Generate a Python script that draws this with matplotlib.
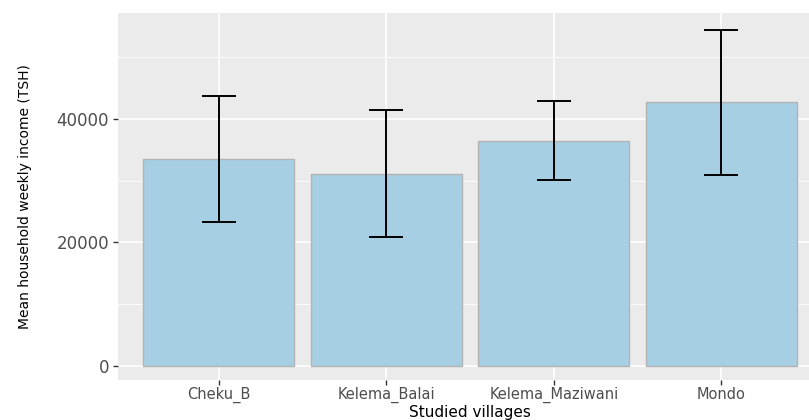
import numpy as np
import matplotlib.pyplot as plt

# DATA
villages = ["Cheku_B", "Kelema_Balai", "Kelema_Maziwani", "Mondo"]
mean_income = [33500, 31150, 36500, 42700]
err_income = [10150, 10300, 6450, 11770]

# STYLE
bg = "#EBEBEB"
bar_fill = "#A6CFE3"
bar_edge = "#B3B3B3"
txt_grey = "#4D4D4D"

fig = plt.figure(figsize=(8.09, 4.2), dpi=100)
ax = fig.add_axes([118/809, 40/420, 704/809, 367/420])
ax.set_facecolor(bg)

x = np.arange(1, len(villages) + 1)

# grid, ggplot style
for v in [10000, 30000, 50000]:
    ax.axhline(v, color="white", lw=0.6, zorder=0)
for v in [0, 20000, 40000]:
    ax.axhline(v, color="white", lw=1.2, zorder=0)
for xi in x:
    ax.axvline(xi, color="white", lw=1.2, zorder=0)

ax.bar(x, mean_income, width=0.9, color=bar_fill, edgecolor=bar_edge,
       linewidth=1.0, zorder=2)
ax.errorbar(x, mean_income, yerr=err_income, fmt="none", ecolor="black",
            elinewidth=1.4, capsize=12, capthick=1.4, zorder=3)

ax.set_xlim(0.4, 4.6)
ax.set_ylim(-2270, 57150)

for s in ax.spines.values():
    s.set_visible(False)

ax.set_xticks(x)
ax.set_xticklabels(villages)
ax.set_yticks([0, 20000, 40000])
ax.set_yticklabels(["0", "20000", "40000"])
ax.tick_params(axis="both", colors="#333333", length=3.5, width=1.0,
               labelcolor=txt_grey)
ax.tick_params(axis="x", pad=1.5, labelsize=10.5)
ax.tick_params(axis="y", pad=3, labelsize=12)

ax.set_xlabel("Studied villages", fontsize=11, color="black",
              va="bottom")
ax.xaxis.set_label_coords(0.5, -39.5/367)
ax.set_ylabel("Mean household weekly income (TSH)", fontsize=10,
              color="black", va="center")
ax.yaxis.set_label_coords(-93/704, 0.5)

fig.savefig("out.png", dpi=100)
